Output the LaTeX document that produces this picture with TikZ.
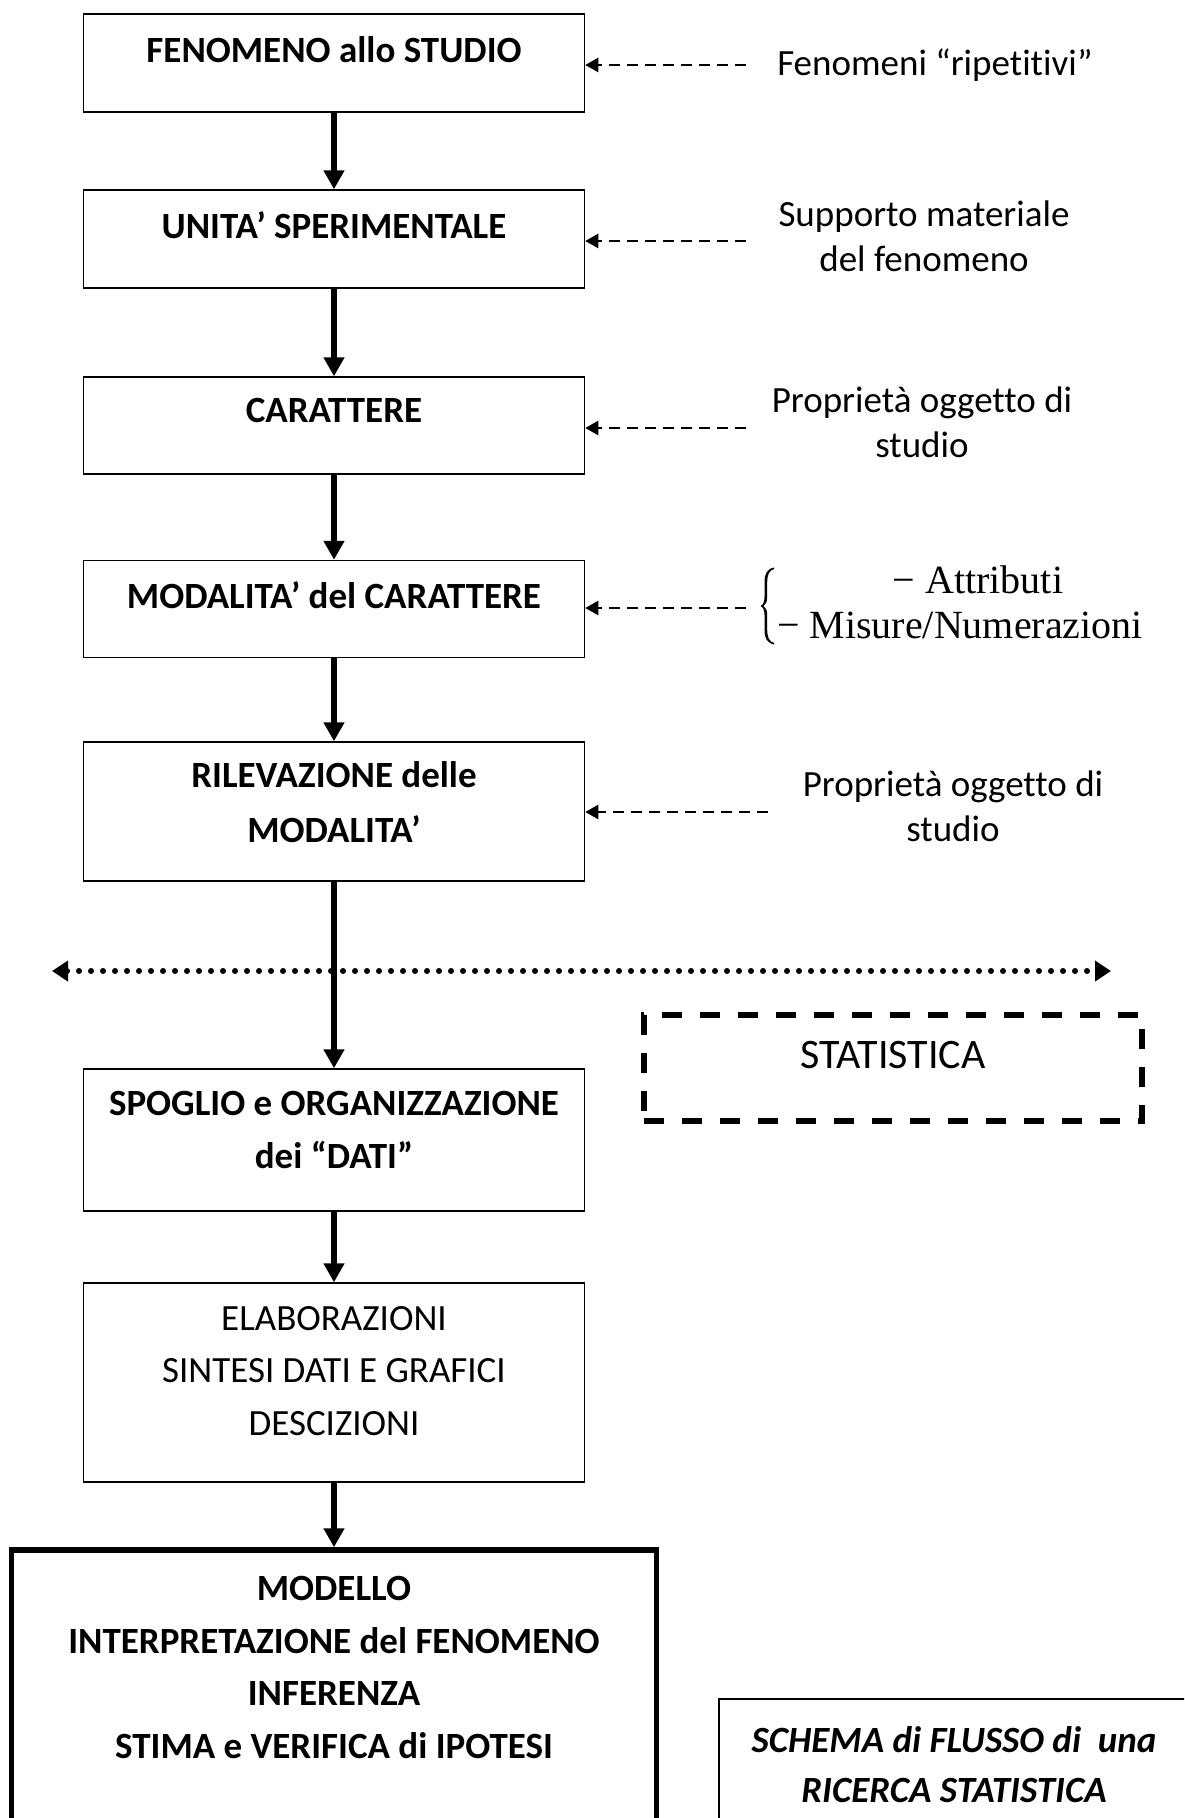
\documentclass[tikz,border=0pt]{standalone}
\usepackage{fontspec}
\setmainfont{Carlito}[Ligatures=NoCommon]
\newfontfamily\serifmath{Liberation Serif}
\usetikzlibrary{arrows.meta}
\begin{document}
\begin{tikzpicture}[x=1pt,y=-1pt,
  box/.style={draw, line width=1.5pt, minimum width=501pt, inner sep=0pt},
  boldtxt/.style={font=\fontsize{37}{52.5}\selectfont\bfseries, align=center, inner sep=0pt},
  regtxt/.style={font=\fontsize{37}{52.5}\selectfont, align=center, inner sep=0pt},
  sidetxt/.style={font=\fontsize{37}{45}\selectfont, align=center, inner sep=0pt},
  mathtxt/.style={font=\fontsize{40}{45}\selectfont\serifmath, inner sep=0pt},
  flow/.style={line width=5.5pt, -{Triangle[length=19pt,width=20pt]}},
  side/.style={line width=2.4pt, dash pattern=on 11pt off 7pt, -{Triangle[length=13pt,width=14pt]}},
]
\useasboundingbox (0,0) rectangle (1184,1818);
\clip (0,0) rectangle (1184,1818);

% main boxes
\node[box, minimum height=98pt] (b1) at (334,63) {};
\node[boldtxt] (t1) at (334,50) {FENOMENO allo STUDIO};
\node[box, minimum height=98pt] (b2) at (334,239) {};
\node[boldtxt] (t2) at (334,225) {UNITA’ SPERIMENTALE};
\node[box, minimum height=97pt] (b3) at (334,425.5) {};
\node[boldtxt] (t3) at (334,410.5) {CARATTERE};
\node[box, minimum height=97pt] (b4) at (334,609) {};
\node[boldtxt] (t4) at (334,595) {MODALITA’ del CARATTERE};
\node[box, minimum height=139pt] (b5) at (334,811.5) {};
\node[boldtxt, font=\fontsize{37}{55}\selectfont\bfseries] (t5) at (334,802.5) {RILEVAZIONE delle\\MODALITA’};
\node[box, minimum height=142pt] (b6) at (334,1140) {};
\node[boldtxt] (t6) at (334,1130) {SPOGLIO e ORGANIZZAZIONE\\dei “DATI”};
\node[box, minimum height=199pt] (b7) at (334,1382.5) {};
\node[regtxt] (t7) at (334,1371) {ELABORAZIONI\\SINTESI DATI E GRAFICI\\DESCIZIONI};
\node[draw, line width=5.5pt, minimum width=645pt, minimum height=320pt, inner sep=0pt] (b8) at (334,1710) {};
\node[boldtxt] (t8) at (334,1667.5) {MODELLO\\INTERPRETAZIONE del FENOMENO\\INFERENZA\\STIMA e VERIFICA di IPOTESI};
\node[draw, line width=1.8pt, minimum width=481pt, minimum height=141pt, inner sep=0pt] (b9) at (959.5,1769.5) {};
\node[boldtxt, font=\fontsize{37}{50}\selectfont\bfseries\itshape] (t9) at (954,1764.5) {SCHEMA di FLUSSO di~ una\\RICERCA STATISTICA};

% flow arrows
\draw[flow] (b1.south) -- (b2.north);
\draw[flow] (b2.south) -- (b3.north);
\draw[flow] (b3.south) -- (b4.north);
\draw[flow] (b4.south) -- (b5.north);
\draw[flow] (b6.south) -- (b7.north);
\draw[flow] (b7.south) -- (b8.north);

% side notes
\node[sidetxt] (s1) at (935,65) {Fenomeni “ripetitivi”};
\node[sidetxt] (s2) at (924,236.5) {Supporto materiale\\del fenomeno};
\node[sidetxt] (s3) at (922,422) {Proprietà oggetto di\\studio};
\node[sidetxt] (s5) at (953,806) {Proprietà oggetto di\\studio};
\node[mathtxt] (m1) at (978,580) {− Attributi};
\node[mathtxt] (m2) at (960,625) {− Misure/Numerazioni};
% curly brace
\fill (774,567.5) .. controls (767,569) and (764.5,574) .. (764.5,582)
  -- (764.5,597) .. controls (764.5,602) and (763,605) .. (760.5,606)
  .. controls (763,607) and (764.5,610) .. (764.5,615)
  -- (764.5,630) .. controls (764.5,638) and (767,643) .. (774,644.5)
  -- (774,643) .. controls (769,641.5) and (767.2,637) .. (767.2,630)
  -- (767.2,615) .. controls (767.2,610) and (765.5,607.5) .. (763.5,606)
  .. controls (765.5,604.5) and (767.2,602) .. (767.2,597)
  -- (767.2,582) .. controls (767.2,575) and (769,570.5) .. (774,569) -- cycle;

\coordinate (d1) at (746,65);
\coordinate (d2) at (746,241);
\coordinate (d3) at (746,428);
\coordinate (d4) at (746,608);
\coordinate (d5) at (768,812);
\draw[side] (d1) -- (d1 -| b1.east);
\draw[side] (d2) -- (d2 -| b2.east);
\draw[side] (d3) -- (d3 -| b3.east);
\draw[side] (d4) -- (d4 -| b4.east);
\draw[side] (d5) -- (d5 -| b5.east);

% dotted separator
\coordinate (dl) at (52,971);
\coordinate (dr) at (1111,971);
\draw[line width=6pt, dash pattern=on 0pt off 12pt, line cap=round,
  {Triangle[length=16pt,width=20pt]}-{Triangle[length=16pt,width=20pt]}] (dl) -- (dr);

% STATISTICA box
\node[draw, line width=5.5pt, dash pattern=on 20pt off 18pt, minimum width=498pt, minimum height=106pt, inner sep=0pt] (st) at (893,1068) {};
\node[sidetxt, font=\fontsize{42}{50}\selectfont] (stt) at (893,1055) {STATISTICA};

\draw[flow] (b5.south) -- (b6.north);
\end{tikzpicture}
\end{document}
